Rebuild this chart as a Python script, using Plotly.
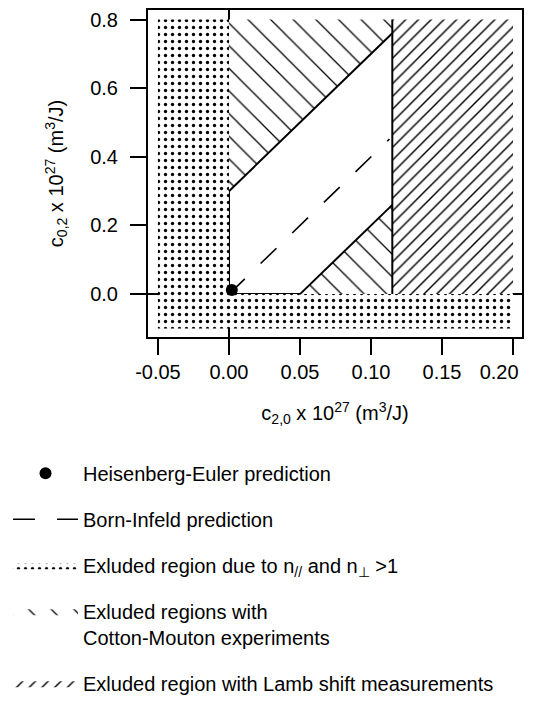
import plotly.graph_objects as go

# ---- data (units of 1e-27 m^3/J) ----
dot_x = [-0.05, 0.0, 0.0, 0.2, 0.2, -0.05, -0.05]
dot_y = [0.8, 0.8, 0.0, 0.0, -0.1, -0.1, 0.8]

cm_up_x = [0.0, 0.0, 0.115, 0.115, 0.0]
cm_up_y = [0.3, 0.8, 0.8, 0.76, 0.3]
cm_lo_x = [0.05, 0.115, 0.115, 0.05]
cm_lo_y = [0.0, 0.0, 0.26, 0.0]

lamb_x = [0.115, 0.2, 0.2, 0.115, 0.115]
lamb_y = [0.0, 0.0, 0.8, 0.8, 0.0]

edge_up_x = [0.0, 0.115]
edge_up_y = [0.3, 0.76]
edge_lo_x = [0.05, 0.115]
edge_lo_y = [0.0, 0.26]
edge_v_x = [0.115, 0.115]
edge_v_y = [0.0, 0.8]

bi_x = [0.0, 0.113]
bi_y = [0.0, 0.452]

he_x = [0.002]
he_y = [0.012]

x_ticks = [-0.05, 0.0, 0.05, 0.10, 0.15, 0.20]
x_ticktext = ["-0.05", "0.00", "0.05", "0.10", "0.15",
              "0.20\u00a0\u00a0\u00a0\u00a0\u00a0"]
y_ticks = [0.0, 0.2, 0.4, 0.6, 0.8]
y_ticktext = ["0.0", "0.2", "0.4", "0.6", "0.8"]

FONT = "Liberation Sans, Arial, sans-serif"
FS = 20

fig = go.Figure()

# dotted region
fig.add_trace(go.Scatter(
    x=dot_x, y=dot_y, mode="lines", fill="toself",
    line=dict(width=0, color="black"),
    fillpattern=dict(shape=".", size=7, solidity=0.18, fgcolor="black",
                     bgcolor="white", fgopacity=1),
    name="Exluded region due to n<sub>//</sub> and n<sub>\u22a5</sub> >1",
    legendgroup="c", legendrank=3, hoverinfo="skip"))

# Cotton-Mouton
fig.add_trace(go.Scatter(
    x=cm_up_x, y=cm_up_y, mode="lines", fill="toself",
    line=dict(width=0, color="black"),
    fillpattern=dict(shape="\\", size=16, solidity=0.08, fgcolor="black",
                     bgcolor="white", fgopacity=1),
    name="Exluded regions with<br>Cotton-Mouton experiments",
    legendgroup="d", legendrank=4, hoverinfo="skip"))
fig.add_trace(go.Scatter(
    x=cm_lo_x, y=cm_lo_y, mode="lines", fill="toself",
    line=dict(width=0, color="black"),
    fillpattern=dict(shape="\\", size=16, solidity=0.08, fgcolor="black",
                     bgcolor="white", fgopacity=1),
    showlegend=False, legendgroup="d", hoverinfo="skip"))

# Lamb shift
fig.add_trace(go.Scatter(
    x=lamb_x, y=lamb_y, mode="lines", fill="toself",
    line=dict(width=0, color="black"),
    fillpattern=dict(shape="/", size=9, solidity=0.16, fgcolor="black",
                     bgcolor="white", fgopacity=1),
    name="Exluded region with Lamb shift measurements",
    legendgroup="e", legendrank=5, hoverinfo="skip"))

# boundary lines
for ex, ey in [(edge_up_x, edge_up_y), (edge_lo_x, edge_lo_y), (edge_v_x, edge_v_y)]:
    fig.add_trace(go.Scatter(x=ex, y=ey, mode="lines",
                             line=dict(color="black", width=2),
                             showlegend=False, hoverinfo="skip"))

# Born-Infeld
fig.add_trace(go.Scatter(
    x=bi_x, y=bi_y, mode="lines",
    line=dict(color="black", width=1.6, dash="22px,22px"),
    name="Born-Infeld prediction", legendgroup="b", legendrank=2, hoverinfo="skip"))

# Heisenberg-Euler
fig.add_trace(go.Scatter(
    x=he_x, y=he_y, mode="markers",
    marker=dict(color="black", size=12),
    name="Heisenberg-Euler prediction", legendgroup="a", legendrank=1, hoverinfo="skip"))

axis_common = dict(
    showgrid=False, ticks="outside", ticklen=16, tickwidth=2, tickcolor="black",
    showline=True, linecolor="black", linewidth=2, mirror=True,
    zeroline=True, zerolinecolor="black", zerolinewidth=2,
    tickfont=dict(family=FONT, size=FS, color="black"),
    automargin=False,
)

fig.update_layout(
    width=545, height=700,
    margin=dict(l=140, r=31, t=2, b=371, autoexpand=False),
    paper_bgcolor="white", plot_bgcolor="white",
    font=dict(family=FONT, size=FS, color="black"),
    xaxis=dict(range=[-0.057, 0.2063], tickvals=x_ticks, ticktext=x_ticktext,
               title=dict(text="c<sub>2,0</sub> x 10<sup>27</sup> (m<sup>3</sup>/J)",
                          font=dict(family=FONT, size=FS), standoff=24),
               **axis_common),
    yaxis=dict(range=[-0.125, 0.828], tickvals=y_ticks, ticktext=y_ticktext,
               ticklabelstandoff=8,
               title=dict(text="c<sub>0,2</sub> x 10<sup>27</sup> (m<sup>3</sup>/J)",
                          font=dict(family=FONT, size=FS), standoff=21),
               **axis_common),
    legend=dict(x=-0.3743, y=-0.357, xanchor="left", yanchor="top",
                orientation="v", traceorder="grouped", tracegroupgap=17,
                itemwidth=65, valign="top", bgcolor="rgba(0,0,0,0)",
                font=dict(family=FONT, size=FS, color="black")),
    showlegend=True,
)

fig.write_html("out.html")
